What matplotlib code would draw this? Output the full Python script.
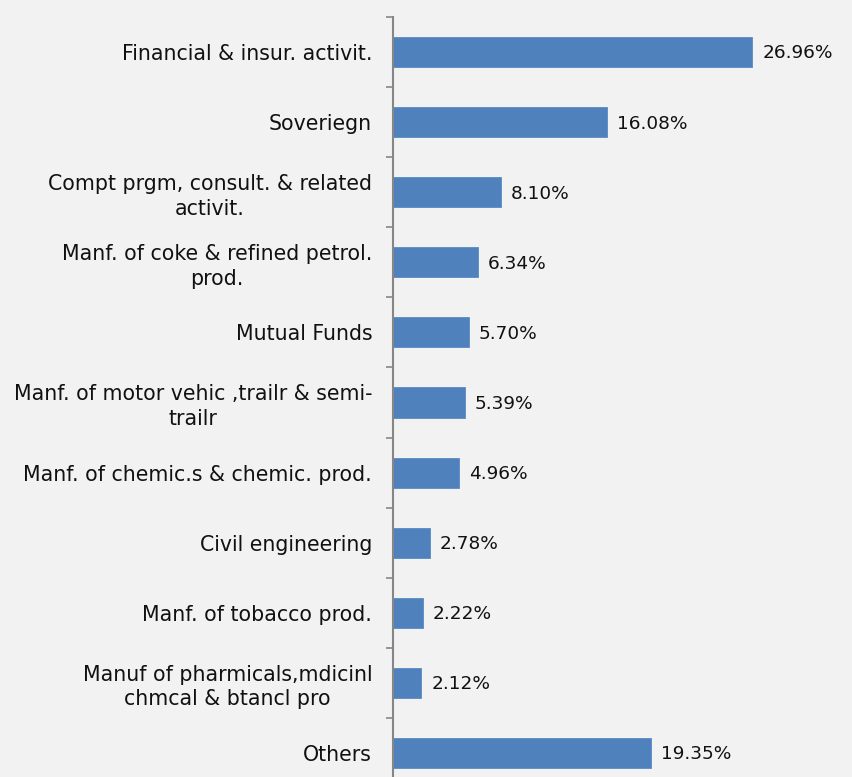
import matplotlib.pyplot as plt
from matplotlib.ticker import FixedLocator

categories = [
    "Financial & insur. activit.",
    "Soveriegn",
    "Compt prgm, consult. & related\nactivit.",
    "Manf. of coke & refined petrol.\nprod.",
    "Mutual Funds",
    "Manf. of motor vehic ,trailr & semi-\ntrailr",
    "Manf. of chemic.s & chemic. prod.",
    "Civil engineering",
    "Manf. of tobacco prod.",
    "Manuf of pharmicals,mdicinl\nchmcal & btancl pro",
    "Others",
]
shares = [26.96, 16.08, 8.10, 6.34, 5.70, 5.39, 4.96, 2.78, 2.22, 2.12, 19.35]

BG = "#f2f2f2"
BAR = "#4f81bd"
AXIS = "#868686"

plt.rcParams["font.family"] = ["DejaVu Sans"]

fig = plt.figure(figsize=(8.52, 7.77), dpi=100, facecolor=BG)
ax = fig.add_axes([393 / 852, -11 / 777, 400 / 852, 771 / 777])
ax.set_facecolor(BG)

ypos = list(range(len(categories)))
ax.barh(ypos, shares, height=0.43, color=BAR, edgecolor="#5b8ac4", linewidth=0.6)

for y, v in zip(ypos, shares):
    ax.text(v + 0.75, y + 0.02, f"{v:.2f}%", va="center", ha="left", fontsize=13.3, color="#111111")

ax.set_xlim(0, 30)
ax.set_ylim(len(categories) - 0.5, -0.5)

ax.set_yticks(ypos)
ax.set_yticklabels(categories, fontsize=14.8, color="#111111", linespacing=1.28)
for t in ax.get_yticklabels():
    t.set_multialignment("center")
ax.yaxis.set_minor_locator(FixedLocator([i - 0.5 for i in range(len(categories) + 1)]))
ax.tick_params(axis="y", which="major", length=0, pad=15)
ax.tick_params(axis="y", which="minor", length=5, width=1.2, color=AXIS)
ax.set_xticks([])

for side in ["top", "right", "bottom"]:
    ax.spines[side].set_visible(False)
ax.spines["left"].set_color(AXIS)
ax.spines["left"].set_linewidth(1.5)

fig.savefig("out.png", dpi=100, facecolor=BG)
